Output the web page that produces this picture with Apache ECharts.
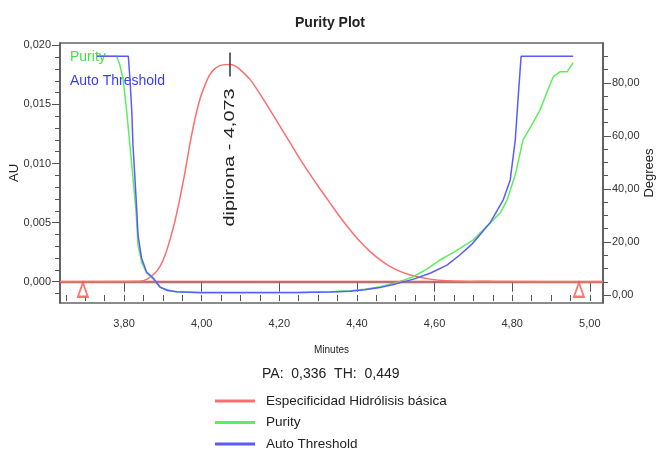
<!DOCTYPE html>
<html>
<head>
<meta charset="utf-8">
<title>Purity Plot</title>
<script src="https://cdn.jsdelivr.net/npm/echarts@6/dist/echarts.min.js"></script>
<style>
  html, body { margin: 0; padding: 0; background: #fff; }
  #chart { width: 660px; height: 456px; }
</style>
</head>
<body>
<div id="chart"></div>
<script>
// ---- Chromatogram (AU, left axis) ----
const chromTime = [3.635, 3.841, 3.862, 3.880, 3.893, 3.905, 3.918, 3.931, 3.944, 3.957,
  3.970, 3.983, 3.996, 4.009, 4.021, 4.034, 4.047, 4.060, 4.073, 4.086, 4.099, 4.125,
  4.150, 4.176, 4.202, 4.228, 4.253, 4.279, 4.305, 4.331, 4.356, 4.382, 4.408, 4.434,
  4.460, 4.485, 4.511, 4.545, 4.588, 4.632, 4.692, 4.740, 4.760, 5.034];
const chromAU = [0.00000, 0.00003, 0.00027, 0.00073, 0.00132, 0.00217, 0.00352, 0.00512,
  0.00707, 0.00926, 0.01171, 0.01381, 0.01550, 0.01668, 0.01753, 0.01803, 0.01829,
  0.01837, 0.01838, 0.01826, 0.01795, 0.01710, 0.01590, 0.01455, 0.01315, 0.01175,
  0.01040, 0.00910, 0.00785, 0.00665, 0.00550, 0.00440, 0.00340, 0.00255, 0.00185,
  0.00130, 0.00088, 0.00050, 0.00022, 0.00008, 0.00002, 0.00004, 0.00001, 0.00000];

// ---- Purity angle (Degrees, right axis) ----
const purityTime = [3.730, 3.781, 3.789, 3.797, 3.807, 3.815, 3.823, 3.831, 3.836, 3.845,
  3.858, 3.875, 3.893, 3.936, 3.996, 4.124, 4.253, 4.331, 4.382, 4.420, 4.459, 4.500,
  4.544, 4.580, 4.614, 4.650, 4.700, 4.743, 4.769, 4.787, 4.808, 4.828, 4.851, 4.872,
  4.890, 4.906, 4.924, 4.942, 4.957];
const purityDeg = [90.0, 90.0, 86.8, 81.9, 69.1, 56.6, 44.2, 31.3, 18.9, 12.5,
  8.3, 6.0, 2.8, 1.1, 0.9, 0.9, 1.0, 1.2, 1.6, 2.2, 3.1, 4.6,
  6.8, 9.8, 13.2, 16.2, 20.8, 27.2, 30.9, 35.9, 45.3, 58.5, 64.2, 69.8,
  76.6, 82.3, 84.2, 84.2, 87.6];

// ---- Purity threshold (Degrees, right axis) ----
const thresholdTime = [3.730, 3.811, 3.815, 3.820, 3.823, 3.828, 3.833, 3.836, 3.845,
  3.858, 3.875, 3.893, 3.912, 3.936, 3.996, 4.124, 4.253, 4.331, 4.382, 4.420, 4.459,
  4.500, 4.544, 4.590, 4.632, 4.665, 4.695, 4.710, 4.743, 4.777, 4.795, 4.808, 4.815,
  4.823, 4.957];
const thresholdDeg = [90.0, 90.0, 81.9, 69.1, 56.6, 44.2, 31.3, 22.6, 14.0,
  8.7, 6.4, 3.0, 1.7, 1.2, 1.0, 1.0, 1.0, 1.1, 1.4, 2.0, 2.8,
  4.2, 5.9, 8.3, 11.3, 15.1, 19.0, 21.5, 27.2, 35.9, 43.4, 58.5, 73.6,
  90.0, 90.0];

// ---- Peak and integration markers ----
const peakName = 'dipirona';
const peakTime = 4.073;
const integrationMarks = [3.694, 4.972];
const purityAngle = '0,336';
const purityThreshold = '0,449';

// ---- Axes ----
const xRange = [3.635, 5.034];
const auRange = [-0.0018, 0.0202];
const degRange = [-3, 95];
const xMajorTicks = [3.80, 4.00, 4.20, 4.40, 4.60, 4.80, 5.00];
const xMinorTicks = [3.65, 3.70, 3.75, 3.80, 3.85, 3.90, 3.95, 4.00, 4.05, 4.10, 4.15,
  4.20, 4.25, 4.30, 4.35, 4.40, 4.45, 4.50, 4.55, 4.60, 4.65, 4.70, 4.75, 4.80, 4.85,
  4.90, 4.95, 5.00];
const auMajorTicks = [0, 0.005, 0.010, 0.015, 0.020];
const auMinorTicks = [-0.001, 0, 0.001, 0.002, 0.003, 0.004, 0.005, 0.006, 0.007, 0.008,
  0.009, 0.010, 0.011, 0.012, 0.013, 0.014, 0.015, 0.016, 0.017, 0.018, 0.019, 0.020];
const degMajorTicks = [0, 20, 40, 60, 80];
const degMinorTicks = [0, 5, 10, 15, 20, 25, 30, 35, 40, 45, 50, 55, 60, 65, 70, 75, 80, 85, 90];

const chromName = 'Especificidad Hidrólisis básica';
const purityName = 'Purity';
const thresholdName = 'Auto Threshold';

const FONT = "'Liberation Sans', Arial, sans-serif";
const RED = '#ff6e6e';
const GREEN = '#5cef5c';
const BLUE = '#5a5aff';
const AXIS = '#555';

const comma = (v, d) => v.toFixed(d).replace('.', ',');
const zip = (a, b) => a.map((t, i) => [t, b[i]]);

const peakAU = chromAU[chromTime.indexOf(peakTime)];

const chart = echarts.init(document.getElementById('chart'), null, { renderer: 'canvas' });

const labelStyle = { color: '#333', fontSize: 11, fontFamily: FONT };
const tickLine = { color: AXIS, width: 1 };

const option = {
  animation: false,
  backgroundColor: '#fff',
  textStyle: { fontFamily: FONT },
  title: {
    text: 'Purity Plot',
    left: 'center',
    top: 11,
    textStyle: { fontSize: 14, fontWeight: 'bold', color: '#222', fontFamily: FONT }
  },
  grid: {
    left: 60, right: 57, top: 43, bottom: 153,
    outerBoundsMode: 'none',
    containLabel: false,
    show: true, borderColor: '#666', borderWidth: 1.5, backgroundColor: '#fff'
  },
  legend: [
    {
      orient: 'vertical',
      left: 210, top: 389,
      itemWidth: 40, itemHeight: 3, itemGap: 7.5,
      icon: 'rect',
      selectedMode: false,
      data: [chromName, purityName, thresholdName],
      textStyle: { fontSize: 13.5, color: '#222', fontFamily: FONT, padding: [0, 0, 0, 6] }
    },
    {
      orient: 'vertical',
      left: 60, top: 45,
      itemWidth: 0, itemHeight: 0, itemGap: 10,
      icon: 'rect',
      selectedMode: false,
      data: [
        { name: purityName, textStyle: { color: '#3ce83c' } },
        { name: thresholdName, textStyle: { color: '#3b3bff' } }
      ],
      textStyle: { fontSize: 14, fontFamily: FONT }
    }
  ],
  xAxis: [
    {
      type: 'value', min: xRange[0], max: xRange[1], position: 'bottom',
      name: 'Minutes', nameLocation: 'middle', nameGap: 42, nameMoveOverlap: false,
      nameTextStyle: { fontSize: 10, color: '#222', fontFamily: FONT },
      axisLine: { show: true, lineStyle: { color: AXIS, width: 1.5 } },
      axisTick: { show: true, inside: false, length: 10, customValues: xMajorTicks, lineStyle: tickLine },
      axisLabel: { ...labelStyle, margin: 15, customValues: xMajorTicks, formatter: v => comma(v, 2) },
      splitLine: { show: false }
    },
    {
      type: 'value', min: xRange[0], max: xRange[1], position: 'bottom',
      axisLine: { show: false },
      axisTick: { show: true, length: 6, customValues: xMinorTicks, lineStyle: tickLine },
      axisLabel: { show: false },
      splitLine: { show: false }
    }
  ],
  yAxis: [
    {
      type: 'value', min: auRange[0], max: auRange[1], position: 'left',
      name: 'AU', nameLocation: 'middle', nameGap: 39, nameRotate: 90, nameMoveOverlap: false,
      nameTextStyle: { fontSize: 13, color: '#222', fontFamily: FONT },
      axisLine: { show: true, lineStyle: { color: AXIS, width: 1.5 } },
      axisTick: { show: true, length: 8, customValues: auMajorTicks, lineStyle: tickLine },
      axisLabel: { ...labelStyle, margin: 9, customValues: auMajorTicks, formatter: v => comma(v, 3) },
      splitLine: { show: false }
    },
    {
      type: 'value', min: degRange[0], max: degRange[1], position: 'right',
      name: 'Degrees', nameLocation: 'middle', nameGap: 40, nameRotate: 90, nameMoveOverlap: false,
      nameTextStyle: { fontSize: 13, color: '#222', fontFamily: FONT },
      axisLine: { show: true, lineStyle: { color: AXIS, width: 1.5 } },
      axisTick: { show: true, length: 8, customValues: degMajorTicks, lineStyle: tickLine },
      axisLabel: { ...labelStyle, margin: 9, customValues: degMajorTicks, formatter: v => comma(v, 2) },
      splitLine: { show: false }
    },
    {
      type: 'value', min: auRange[0], max: auRange[1], position: 'left',
      axisLine: { show: false },
      axisTick: { show: true, length: 5, customValues: auMinorTicks, lineStyle: tickLine },
      axisLabel: { show: false },
      splitLine: { show: false }
    },
    {
      type: 'value', min: degRange[0], max: degRange[1], position: 'right',
      axisLine: { show: false },
      axisTick: { show: true, length: 5, customValues: degMinorTicks, lineStyle: tickLine },
      axisLabel: { show: false },
      splitLine: { show: false }
    }
  ],
  series: [
    {
      name: chromName,
      type: 'line',
      xAxisIndex: 0, yAxisIndex: 0,
      data: zip(chromTime, chromAU),
      showSymbol: false, symbol: 'none',
      smooth: 0.25,
      color: RED,
      lineStyle: { color: RED, width: 1.5 },
      z: 3,
      markLine: {
        silent: true, symbol: ['none', 'none'],
        label: { show: false },
        lineStyle: { color: 'rgba(255,110,110,0.35)', width: 4, type: 'solid' },
        data: [{ yAxis: 0 }]
      },
      markPoint: {
        silent: true,
        label: { show: false },
        data: [{
          coord: [peakTime, peakAU],
          symbol: 'rect', symbolSize: [1.5, 24],
          itemStyle: { color: '#333' }
        }]
      }
    },
    {
      name: purityName,
      type: 'line',
      xAxisIndex: 0, yAxisIndex: 1,
      data: zip(purityTime, purityDeg),
      showSymbol: false, symbol: 'none',
      color: GREEN,
      lineStyle: { color: GREEN, width: 1.5 },
      z: 4
    },
    {
      name: thresholdName,
      type: 'line',
      xAxisIndex: 0, yAxisIndex: 1,
      data: zip(thresholdTime, thresholdDeg),
      showSymbol: false, symbol: 'none',
      color: BLUE,
      lineStyle: { color: BLUE, width: 1.5 },
      z: 5
    },
    {
      name: 'integration',
      type: 'scatter',
      xAxisIndex: 0, yAxisIndex: 0,
      data: integrationMarks.map(t => [t, 0]),
      symbol: 'emptyTriangle',
      symbolSize: [10, 14],
      symbolOffset: [0, 8],
      itemStyle: { color: '#ff5050', borderColor: '#ff5050', borderWidth: 1.5 },
      silent: true,
      z: 6
    }
  ],
  graphic: [
    {
      type: 'text',
      left: 262, top: 367,
      style: {
        text: 'PA:  ' + purityAngle + '  TH:  ' + purityThreshold,
        fontSize: 14, fontFamily: FONT, fill: '#222'
      }
    }
  ]
};

chart.setOption(option);

// Peak label, rotated along the peak apex line
const apex = chart.convertToPixel({ xAxisIndex: 0, yAxisIndex: 0 }, [peakTime, peakAU]);
chart.setOption({
  graphic: [
    option.graphic[0],
    {
      type: 'text',
      x: apex[0], y: apex[1] + 93,
      rotation: Math.PI / 2,
      scaleX: 1.42,
      style: {
        text: peakName + ' - ' + comma(peakTime, 3),
        fontSize: 14, fontFamily: FONT, fill: '#222',
        align: 'center', verticalAlign: 'middle'
      },
      z: 10
    }
  ]
});
</script>
</body>
</html>
